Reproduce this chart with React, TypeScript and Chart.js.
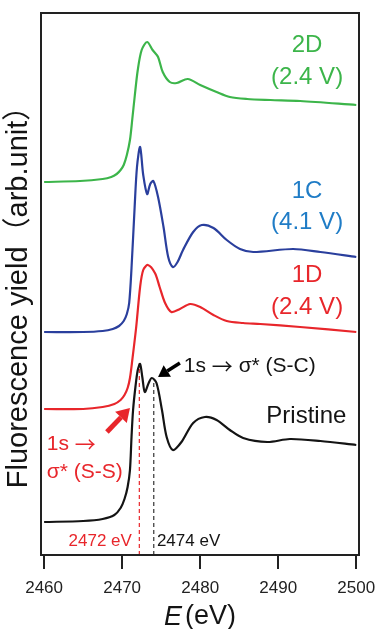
import React, { useEffect, useRef } from "react";
import { Chart, registerables } from "chart.js";

Chart.register(...registerables);

// ---- data (energy in eV, fluorescence yield in arb. units incl. stacking offset) ----
const xTicks = [2460, 2470, 2480, 2490, 2500];

const energy2D = [2460, 2464.6, 2467.5, 2468.6, 2469.3, 2469.8, 2470.2, 2470.6, 2471.0, 2471.3, 2471.6, 2472.0, 2472.5, 2473.2, 2473.9, 2474.6, 2475.2, 2476.1, 2477.0, 2478.4, 2480.0, 2482.1, 2483.8, 2486.0, 2489.0, 2492.8, 2500];
const yield2D = [373, 374, 376, 378, 381, 385, 390, 400, 415, 436, 458, 485, 505, 513, 505, 498, 483, 473, 472, 476, 470, 463, 458, 456, 455, 454, 450];

const energy1C = [2460, 2465.0, 2467.5, 2468.8, 2469.6, 2470.2, 2470.6, 2470.9, 2471.2, 2471.6, 2471.9, 2472.3, 2472.7, 2473.2, 2473.6, 2474.0, 2474.6, 2475.3, 2475.9, 2476.5, 2477.1, 2477.8, 2479.1, 2480.2, 2481.7, 2483.4, 2485.1, 2486.8, 2491.9, 2495.4, 2500];
const yield1C = [223, 223, 224, 226, 229, 234, 241, 252, 287, 348, 388, 408, 380, 361, 371, 374, 358, 328, 298, 288, 293, 305, 323, 330, 327, 315, 306, 303, 306, 303, 298];

const energy1D = [2460, 2465.0, 2467.5, 2469.0, 2469.8, 2470.3, 2470.7, 2471.0, 2471.3, 2471.8, 2472.3, 2472.7, 2473.3, 2474.2, 2474.8, 2475.5, 2476.3, 2477.4, 2478.7, 2480.0, 2481.7, 2483.4, 2485.5, 2487.7, 2492.8, 2500];
const yield1D = [146, 146, 148, 151, 155, 160, 167, 177, 195, 228, 268, 285, 290, 282, 268, 252, 243, 246, 251, 248, 240, 234, 232, 231, 228, 223];

const energyPristine = [2460, 2465.0, 2467.5, 2469.0, 2469.8, 2470.3, 2470.7, 2471.0, 2471.2, 2471.4, 2471.7, 2472.0, 2472.3, 2472.6, 2472.9, 2473.4, 2473.8, 2474.4, 2475.1, 2475.7, 2476.5, 2477.6, 2479.1, 2480.6, 2482.1, 2483.8, 2485.5, 2488.6, 2491.5, 2495.4, 2500];
const yieldPristine = [33, 34, 36, 40, 47, 56, 68, 85, 118, 145, 168, 185, 191, 177, 163, 172, 177, 172, 145, 118, 105, 113, 132, 138, 135, 125, 117, 113, 116, 114, 110];

const markerSS = 2472.2; // 1s -> sigma*(S-S)
const markerSC = 2474.05; // 1s -> sigma*(S-C)
const markerSSTop = 192;
const markerSCTop = 175;

const FONT = "'Liberation Sans', Arial, 'Noto Sans CJK JP', sans-serif";
const ARROW_FONT = "'Noto Sans CJK JP', 'DejaVu Sans', sans-serif";
const GREEN = "#3cb54a";
const BLUE_LINE = "#2a3f9d";
const BLUE_TEXT = "#1f7cc6";
const RED = "#e8262b";
const BLACK = "#141414";

const pts = (xs: number[], ys: number[]) => xs.map((x, i) => ({ x, y: ys[i] }));

function drawArrow(ctx: CanvasRenderingContext2D, x1: number, y1: number, x2: number, y2: number, color: string, width: number, head: number) {
  const ang = Math.atan2(y2 - y1, x2 - x1);
  const bx = x2 - head * Math.cos(ang);
  const by = y2 - head * Math.sin(ang);
  ctx.save();
  ctx.strokeStyle = color;
  ctx.fillStyle = color;
  ctx.lineWidth = width;
  ctx.beginPath();
  ctx.moveTo(x1, y1);
  ctx.lineTo(bx, by);
  ctx.stroke();
  const hw = head * 0.62;
  ctx.beginPath();
  ctx.moveTo(x2, y2);
  ctx.lineTo(bx + hw * Math.sin(ang), by - hw * Math.cos(ang));
  ctx.lineTo(bx - hw * Math.sin(ang), by + hw * Math.cos(ang));
  ctx.closePath();
  ctx.fill();
  ctx.restore();
}

const annotations = {
  id: "annotations",
  afterDraw(chart: any) {
    const ctx: CanvasRenderingContext2D = chart.ctx;
    const xs = chart.scales.x;
    const ys = chart.scales.y;
    const area = chart.chartArea;
    const X = (v: number) => xs.getPixelForValue(v);
    const Y = (v: number) => ys.getPixelForValue(v);

    // frame
    ctx.save();
    ctx.strokeStyle = "#222";
    ctx.lineWidth = 2;
    ctx.strokeRect(area.left, area.top, area.right - area.left, area.bottom - area.top);
    ctx.restore();

    const text = (s: string, x: number, y: number, size: number, color: string, align: CanvasTextAlign = "center", style = "") => {
      ctx.save();
      ctx.font = `${style} ${size}px ${FONT}`;
      ctx.fillStyle = color;
      ctx.textAlign = align;
      ctx.textBaseline = "middle";
      ctx.fillText(s, x, y);
      ctx.restore();
    };

    // mixed run: parts with arrow glyph drawn in a font with a long arrow
    const runs = (parts: string[], x: number, y: number, size: number, color: string) => {
      ctx.save();
      ctx.fillStyle = color;
      ctx.textAlign = "left";
      ctx.textBaseline = "middle";
      let cx = x;
      for (const p of parts) {
        ctx.font = p === "\u2192" ? `${size}px ${ARROW_FONT}` : `${size}px ${FONT}`;
        ctx.fillText(p, cx, y);
        cx += ctx.measureText(p).width;
      }
      ctx.restore();
    };

    // series labels
    text("2D", X(2493.7), Y(510), 24, GREEN);
    text("(2.4 V)", X(2493.7), Y(478), 24, GREEN);
    text("1C", X(2493.7), Y(364), 24, BLUE_TEXT);
    text("(4.1 V)", X(2493.7), Y(333), 24, BLUE_TEXT);
    text("1D", X(2493.7), Y(280), 24, RED);
    text("(2.4 V)", X(2493.7), Y(248), 24, RED);
    text("Pristine", X(2493.6), Y(139), 24, BLACK);

    // transitions
    runs(["1s ", "\u2192", " \u03c3* (S-C)"], X(2477.9), Y(189), 21, BLACK);
    runs(["1s ", "\u2192"], X(2460.35), Y(111), 21, RED);
    text("\u03c3* (S-S)", X(2460.35), Y(83), 21, RED, "left");
    text("2472 eV", X(2471.25), Y(14), 17, RED, "right");
    text("2474 eV", X(2474.45), Y(14), 17, BLACK, "left");

    drawArrow(ctx, X(2477.4), Y(192), X(2474.6), Y(178), "#000", 3.5, 11);
    drawArrow(ctx, X(2468.05), Y(123), X(2471.0), Y(147), RED, 5, 13);

    // x title: E (eV)
    ctx.save();
    ctx.fillStyle = BLACK;
    ctx.textBaseline = "middle";
    const cx = (area.left + area.right) / 2;
    ctx.font = `italic 27px ${FONT}`;
    const wE = ctx.measureText("E").width;
    ctx.font = `27px ${FONT}`;
    const wP = ctx.measureText("(eV)").width;
    const gap = 3;
    const start = cx - (wE + gap + wP) / 2;
    ctx.font = `italic 27px ${FONT}`;
    ctx.textAlign = "left";
    ctx.fillText("E", start, 617);
    ctx.font = `27px ${FONT}`;
    ctx.fillText("(eV)", start + wE + gap, 617);
    ctx.restore();

    // y title
    ctx.save();
    ctx.translate(19, (area.top + area.bottom) / 2 + 6);
    ctx.rotate(-Math.PI / 2);
    ctx.font = `29px ${FONT}`;
    ctx.fillStyle = BLACK;
    ctx.textAlign = "center";
    ctx.textBaseline = "middle";
    ctx.fillText("Fluorescence yield\uff08arb.unit\uff09", 0, 0);
    ctx.restore();
  },
};

export default function App() {
  const ref = useRef<HTMLCanvasElement | null>(null);

  useEffect(() => {
    document.body.style.margin = "0";
    const canvas = ref.current;
    if (!canvas) return;
    const line = (data: any, color: string) => ({
      data,
      borderColor: color,
      backgroundColor: color,
      borderWidth: 2.2,
      pointRadius: 0,
      tension: 0.3,
      fill: false,
    });
    const chart = new Chart(canvas, {
      type: "line",
      data: {
        datasets: [
          line(pts(energy2D, yield2D), GREEN),
          line(pts(energy1C, yield1C), BLUE_LINE),
          line(pts(energy1D, yield1D), RED),
          line(pts(energyPristine, yieldPristine), BLACK),
          {
            data: [{ x: markerSS, y: 0 }, { x: markerSS, y: markerSSTop }],
            borderColor: RED,
            borderWidth: 1.2,
            borderDash: [4, 3],
            pointRadius: 0,
          },
          {
            data: [{ x: markerSC, y: 0 }, { x: markerSC, y: markerSCTop }],
            borderColor: "#333",
            borderWidth: 1.2,
            borderDash: [4, 3],
            pointRadius: 0,
          },
        ],
      },
      options: {
        responsive: false,
        animation: false,
        devicePixelRatio: 1,
        layout: { padding: { left: 41, right: 18, top: 13, bottom: 0 } },
        plugins: { legend: { display: false }, tooltip: { enabled: false } },
        scales: {
          x: {
            type: "linear",
            min: 2459.6,
            max: 2500.35,
            afterBuildTicks: (s: any) => {
              s.ticks = xTicks.map((v) => ({ value: v }));
            },
            afterFit: (s: any) => {
              s.height = 74;
              s.paddingLeft = 0;
              s.paddingRight = 0;
            },
            grid: { display: true, drawOnChartArea: false, drawTicks: true, tickLength: 14, lineWidth: 2, color: "#222" },
            border: { display: false },
            ticks: {
              color: "#222",
              padding: 9,
              maxRotation: 0,
              autoSkip: false,
              font: { family: FONT, size: 17 },
              callback: (v: any) => String(v),
            },
          },
          y: {
            display: false,
            min: 0,
            max: 542,
          },
        },
      },
      plugins: [annotations],
    });
    return () => chart.destroy();
  }, []);

  return (
    <div style={{ width: 377, height: 629, background: "#fff" }}>
      <canvas ref={ref} width={377} height={629} style={{ display: "block" }} />
    </div>
  );
}
